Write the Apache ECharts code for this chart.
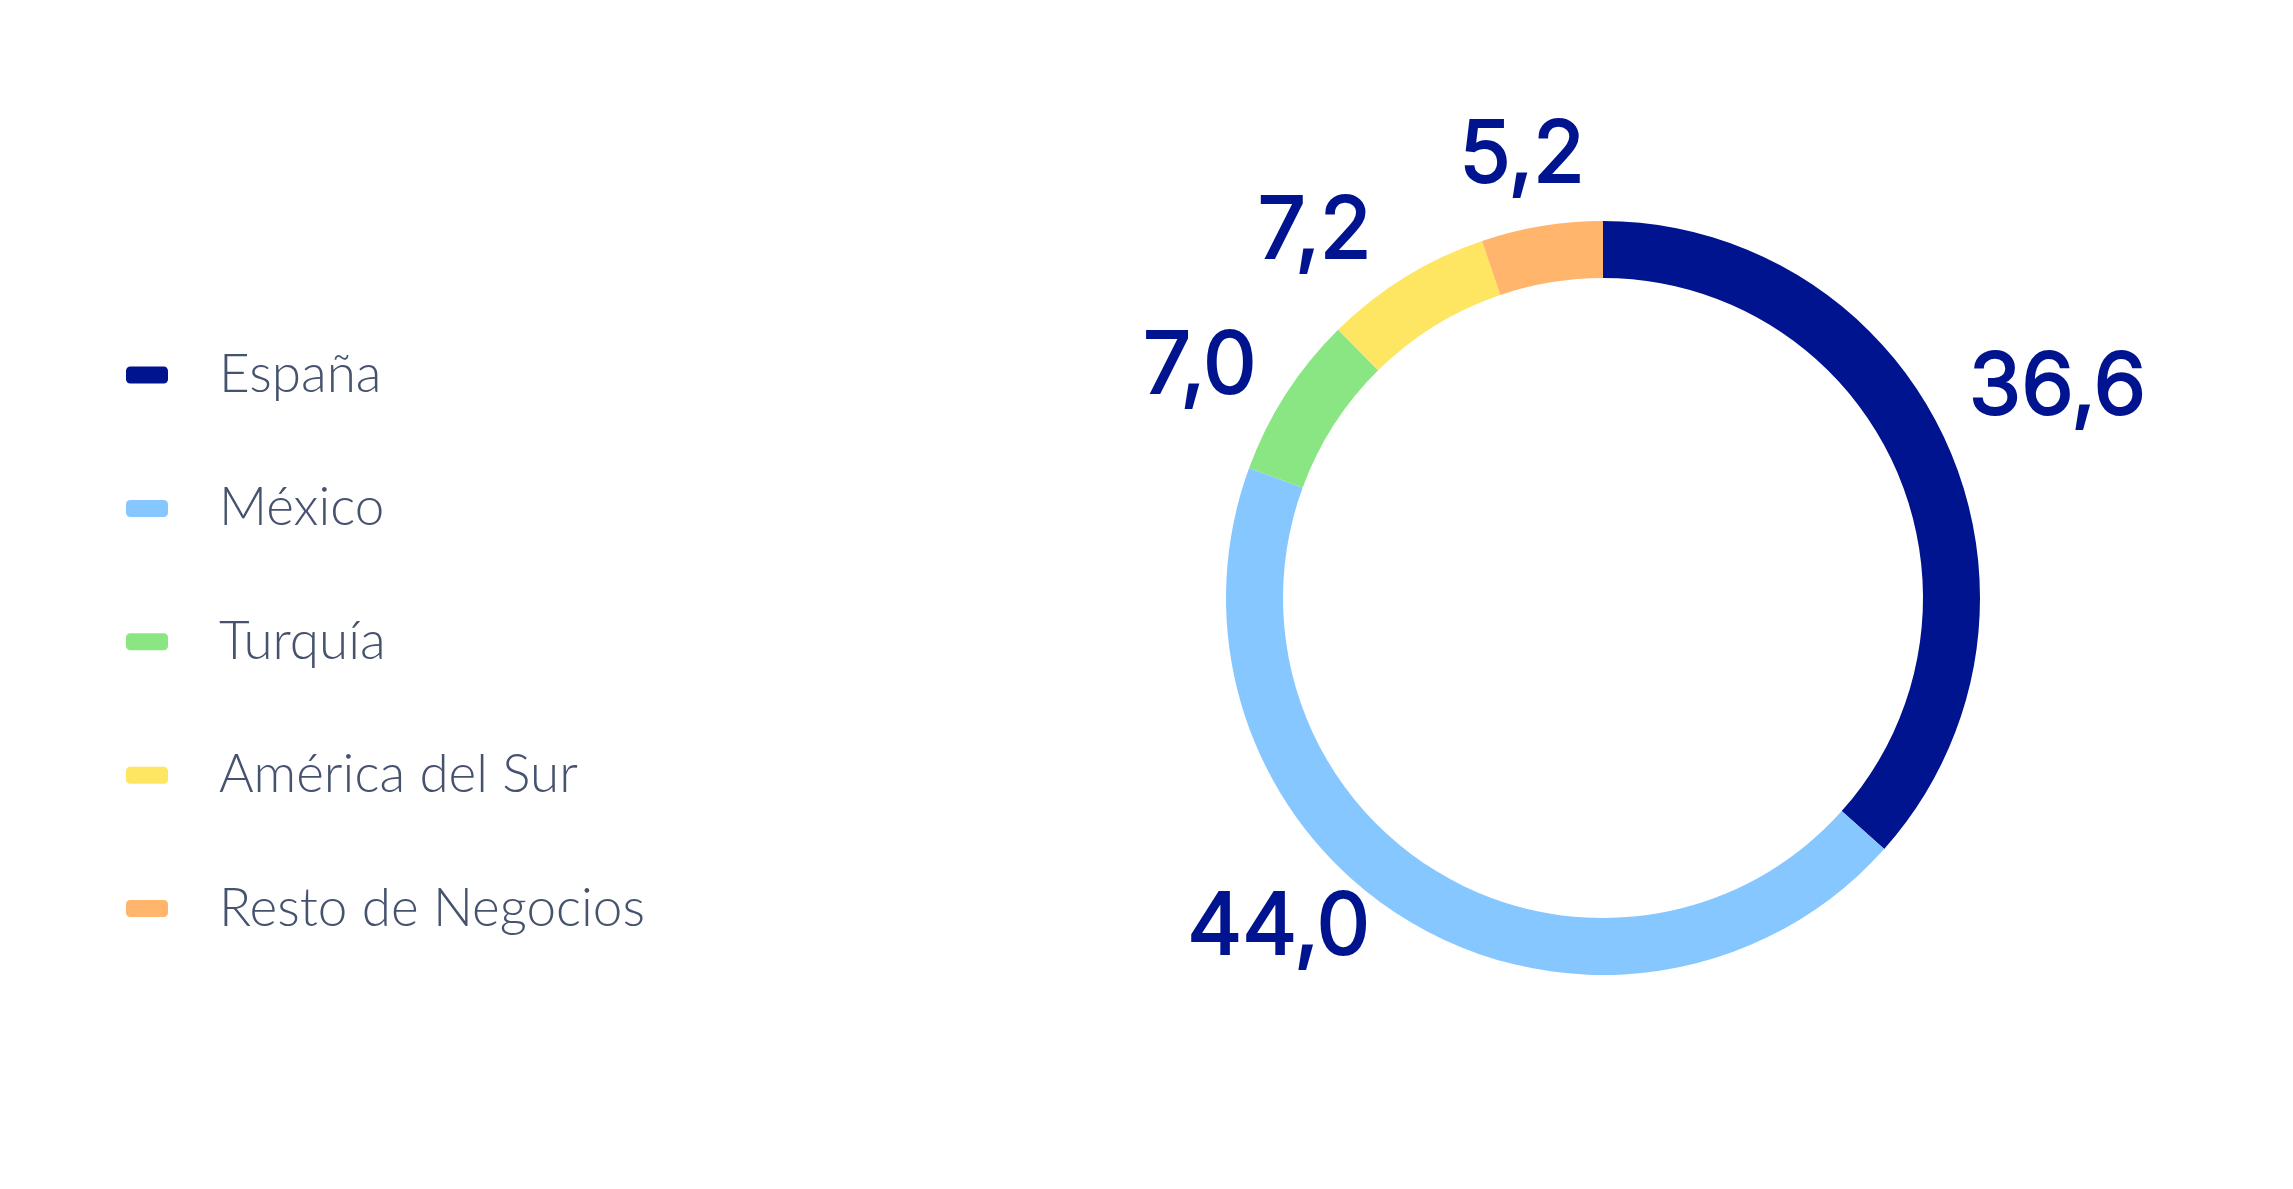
<!DOCTYPE html>
<html>
<head>
<meta charset="utf-8">
<script src="https://cdn.jsdelivr.net/npm/echarts@6/dist/echarts.min.js"></script>
<style>
html,body{margin:0;padding:0;background:#fff;}
#chart{width:2293px;height:1189px;}
</style>
</head>
<body>
<div id="chart"></div>
<script>
const categories = ['España', 'México', 'Turquía', 'América del Sur', 'Resto de Negocios'];
const values = [36.6, 44.0, 7.0, 7.2, 5.2];
const colors = ['#00148f', '#87c7ff', '#8ae683', '#ffe662', '#ffb56c'];
const labelOffsets = [[-38, -31], [-3, -44], [26, 6], [3, 6], [58, -10]];

const chart = echarts.init(document.getElementById('chart'), null, {renderer: 'canvas'});
chart.setOption({
  animation: false,
  backgroundColor: '#ffffff',
  legend: {
    orient: 'vertical',
    left: 121,
    top: 340,
    itemWidth: 42,
    itemHeight: 17,
    itemGap: 73.4,
    icon: 'roundRect',
    selectedMode: false,
    data: categories,
    textStyle: {
      fontFamily: 'Lato',
      fontWeight: 300,
      fontSize: 53,
      lineHeight: 60,
      color: '#46536e',
      padding: [0, 0, 0, 46]
    }
  },
  series: [{
    type: 'pie',
    center: [1603, 598],
    radius: [320, 377],
    startAngle: 90,
    clockwise: true,
    avoidLabelOverlap: false,
    silent: true,
    label: {
      show: true,
      position: 'outside',
      fontFamily: 'Inter',
      fontWeight: 400,
      fontSize: 85,
      color: '#00148f',
      textBorderColor: '#00148f',
      textBorderWidth: 2,
      formatter: p => p.value.toFixed(1).replace('.', ',')
    },
    labelLine: { show: false, length: 60, length2: 0 },
    labelLayout: p => ({ dx: labelOffsets[p.dataIndex][0], dy: labelOffsets[p.dataIndex][1] }),
    data: categories.map((c, i) => ({ name: c, value: values[i], itemStyle: { color: colors[i] } }))
  }]
});
</script>
</body>
</html>
